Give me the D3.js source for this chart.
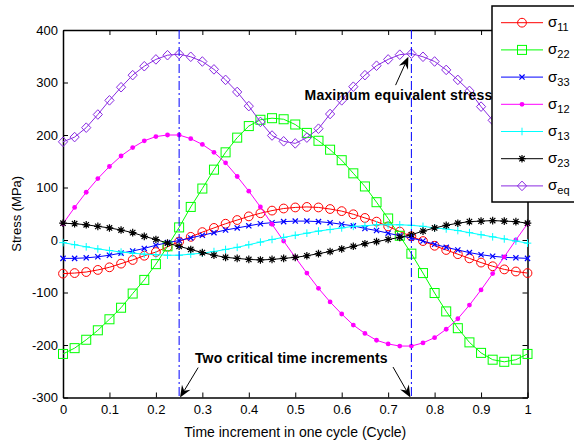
<!DOCTYPE html>
<html>
<head>
<meta charset="utf-8">
<script src="https://cdn.jsdelivr.net/npm/d3@7/dist/d3.min.js"></script>
<style>
  body { margin: 0; background: #fff; }
  svg { display: block; font-family: "Liberation Sans", Arial, sans-serif; }
</style>
</head>
<body>
<svg id="chart" width="574" height="443"></svg>
<script>
// time increments (cycle)
const timeSteps = [0, 0.025, 0.05, 0.075, 0.1, 0.125, 0.15, 0.175, 0.2, 0.225, 0.25, 0.275, 0.3, 0.325, 0.35, 0.375, 0.4, 0.425, 0.45, 0.475, 0.5,
  0.525, 0.55, 0.575, 0.6, 0.625, 0.65, 0.675, 0.7, 0.725, 0.75, 0.775, 0.8, 0.825, 0.85, 0.875, 0.9, 0.925, 0.95, 0.975, 1];

// stress components (MPa)
const sigma11 = [-64, -63, -61, -57, -52, -45, -38, -30, -23, -13, -3, 6, 15, 23, 31, 38, 45, 51, 56, 60, 62,
  63, 62, 59, 55, 49, 42, 35, 26, 16, 7, -2, -11, -19, -27, -35, -43, -50, -56, -60, -63];
const sigma22 = [-217, -206, -190, -172, -151, -129, -102, -76, -46, -12, 24, 63, 98, 134, 167, 195, 217, 229, 232, 230, 220,
  204, 189, 172, 152, 127, 102, 72, 41, 8, -26, -63, -101, -136, -168, -195, -215, -228, -232, -228, -217];
const sigma33 = [-35, -35, -34, -32, -29, -25, -21, -16, -10, -5, -1, 4, 9, 14, 19, 23, 27, 31, 33, 35, 36,
  36, 35, 33, 30, 27, 22, 18, 13, 8, 4, -2, -8, -14, -19, -24, -28, -31, -33, -34, -35];
const sigma12 = [31, 62, 91, 117, 140, 160, 176, 189, 197, 200, 200, 193, 182, 167, 147, 121, 93, 63, 30, -2, -33,
  -63, -92, -118, -141, -162, -178, -191, -198, -202, -202, -196, -186, -170, -150, -124, -95, -64, -32, 0, 31];
const sigma13 = [-5, -9, -13, -17, -20, -23, -25, -27, -28, -29, -29, -27, -25, -22, -18, -14, -9, -4, 1, 5, 9,
  13, 17, 20, 23, 26, 27, 29, 29, 29, 28, 26, 23, 21, 18, 14, 10, 6, 2, -2, -6];
const sigma23 = [32, 31, 29, 26, 23, 19, 14, 7, 1, -6, -12, -18, -24, -29, -33, -35, -37, -38, -37, -35, -33,
  -30, -26, -22, -17, -12, -7, -3, 1, 5, 10, 17, 23, 28, 32, 35, 36, 37, 36, 35, 32];
const sigmaEq = [187, 196, 214, 239, 266, 291, 314, 331, 344, 352, 354, 349, 340, 325, 305, 282, 255, 225, 199, 188, 184,
  195, 212, 240, 266, 292, 314, 332, 344, 353, 355, 349, 340, 324, 305, 284, 254, 228, 207, 192, 187];

const seriesSubs = ['11', '22', '33', '12', '13', '23', 'eq'];

const xTicks = [0, 0.1, 0.2, 0.3, 0.4, 0.5, 0.6, 0.7, 0.8, 0.9, 1];
const xTickLabels = ['0', '0.1', '0.2', '0.3', '0.4', '0.5', '0.6', '0.7', '0.8', '0.9', '1'];
const yTicks = [-300, -200, -100, 0, 100, 200, 300, 400];
const yTickLabels = ['-300', '-200', '-100', '0', '100', '200', '300', '400'];

const criticalTimes = [0.25, 0.75];

const W = 574, H = 443;
const MARGINS = { left: 63, right: 46.5, top: 30, bottom: 45.5 };

const svg = d3.select('#chart');
const x = d3.scaleLinear().domain([0, 1]).range([MARGINS.left, W - MARGINS.right]);
const y = d3.scaleLinear().domain([-300, 400]).range([H - MARGINS.bottom, MARGINS.top]);

// marker shapes, MATLAB style
const markers = {
  circle: (g, c) => g.append('circle').attr('r', 4.4).attr('fill', 'none').attr('stroke', c),
  square: (g, c) => g.append('rect').attr('x', -4.5).attr('y', -4.5).attr('width', 9).attr('height', 9)
    .attr('fill', 'none').attr('stroke', c),
  cross: (g, c) => g.append('path').attr('d', 'M-2.6,-2.6L2.6,2.6M-2.6,2.6L2.6,-2.6').attr('stroke', c).attr('stroke-width', 1.2),
  dot: (g, c) => g.append('circle').attr('r', 2.4).attr('fill', c),
  plus: (g, c) => g.append('path').attr('d', 'M-3.8,0H3.8M0,-3.8V3.8').attr('stroke', c),
  star: (g, c) => g.append('path').attr('d', 'M-3.8,0H3.8M0,-3.8V3.8M-2.7,-2.7L2.7,2.7M-2.7,2.7L2.7,-2.7').attr('stroke', c).attr('stroke-width', 1.2),
  diamond: (g, c) => g.append('path').attr('d', 'M0,-4.8L4.6,0L0,4.8L-4.6,0Z').attr('fill', 'none').attr('stroke', c),
};

const series = [
  { values: sigma11, color: '#ff0000', marker: 'circle' },
  { values: sigma22, color: '#00ff00', marker: 'square' },
  { values: sigma33, color: '#0000ff', marker: 'cross' },
  { values: sigma12, color: '#ff00ff', marker: 'dot' },
  { values: sigma13, color: '#00ffff', marker: 'plus' },
  { values: sigma23, color: '#000000', marker: 'star' },
  { values: sigmaEq, color: '#8a2be2', marker: 'diamond' },
].map((s, i) => ({ ...s, sub: seriesSubs[i] }));

// axes (box on, ticks inside)
const axisG = svg.append('g');
const styleAxis = (g) => {
  g.select('.domain').attr('stroke', '#000').attr('stroke-width', 1.5);
  g.selectAll('.tick line').attr('stroke', '#000').attr('stroke-width', 1);
  g.selectAll('.tick text').attr('fill', '#000').style('font-size', '13px');
};

axisG.append('g')
  .attr('transform', `translate(0,${y(-300)})`)
  .call(d3.axisBottom(x).tickValues(xTicks).tickFormat((d, i) => xTickLabels[i]).tickSize(-5).tickSizeOuter(0).tickPadding(7))
  .call(styleAxis);
axisG.append('g')
  .attr('transform', `translate(0,${y(400)})`)
  .call(d3.axisTop(x).tickValues(xTicks).tickFormat('').tickSize(-5).tickSizeOuter(0))
  .call(styleAxis);
axisG.append('g')
  .attr('transform', `translate(${x(0)},0)`)
  .call(d3.axisLeft(y).tickValues(yTicks).tickFormat((d, i) => yTickLabels[i]).tickSize(-5).tickSizeOuter(0).tickPadding(5))
  .call(styleAxis);
axisG.append('g')
  .attr('transform', `translate(${x(1)},0)`)
  .call(d3.axisRight(y).tickValues(yTicks).tickFormat('').tickSize(-5).tickSizeOuter(0))
  .call(styleAxis);
axisG.selectAll('text').attr('font-family', null);

// axis titles
svg.append('text')
  .attr('x', (x(0) + x(1)) / 2)
  .attr('y', 436.5)
  .attr('text-anchor', 'middle')
  .style('font-size', '14px')
  .text('Time increment in one cycle (Cycle)');
svg.append('text')
  .attr('transform', `translate(21,${(y(-300) + y(400)) / 2}) rotate(-90)`)
  .attr('text-anchor', 'middle')
  .style('font-size', '13px')
  .text('Stress (MPa)');

// series
const line = d3.line().x((d) => x(d[0])).y((d) => y(d[1]));
const plot = svg.append('g');
series.forEach((s) => {
  const pts = timeSteps.map((t, i) => [t, s.values[i]]);
  const g = plot.append('g');
  g.append('path').attr('d', line(pts)).attr('fill', 'none').attr('stroke', s.color).attr('stroke-width', 1);
  pts.forEach((p) => {
    const m = g.append('g').attr('transform', `translate(${x(p[0])},${y(p[1])})`);
    markers[s.marker](m, s.color);
  });
});

// critical time lines
svg.append('g').selectAll('line')
  .data(criticalTimes)
  .enter()
  .append('line')
  .attr('x1', (d) => x(d)).attr('x2', (d) => x(d))
  .attr('y1', y(400)).attr('y2', y(-300))
  .attr('stroke', '#0000ff')
  .attr('stroke-width', 1)
  .attr('stroke-dasharray', '9,3,2,3');

// annotations
const drawArrow = (g, x1, y1, x2, y2) => {
  const ang = Math.atan2(y2 - y1, x2 - x1);
  const L = 12, hw = 5, notch = 8;
  const pt = (d, o) => [x2 - d * Math.cos(ang) - o * Math.sin(ang), y2 - d * Math.sin(ang) + o * Math.cos(ang)];
  g.append('line')
    .attr('x1', x1).attr('y1', y1)
    .attr('x2', pt(notch, 0)[0]).attr('y2', pt(notch, 0)[1])
    .attr('stroke', '#000').attr('stroke-width', 1);
  g.append('path')
    .attr('d', 'M' + [[x2, y2], pt(L, hw), pt(notch, 0), pt(L, -hw)].map((p) => p.join(',')).join('L') + 'Z')
    .attr('fill', '#000');
};

const ann = svg.append('g');
ann.append('text')
  .attr('x', x(0.52)).attr('y', y(266))
  .style('font-size', '14px').style('font-weight', 'bold').style('letter-spacing', '0.2px')
  .text('Maximum equivalent stress');
drawArrow(ann, x(0.716), y(295), x(0.7435), y(349));

ann.append('text')
  .attr('x', x(0.284)).attr('y', y(-234.5))
  .style('font-size', '14px').style('font-weight', 'bold').style('letter-spacing', '0.2px')
  .text('Two critical time increments');
drawArrow(ann, x(0.291), y(-243), x(0.252), y(-300));
drawArrow(ann, x(0.7105), y(-242), x(0.748), y(-300));

// legend
const legend = svg.append('g');
legend.append('rect')
  .attr('x', 492).attr('y', 6).attr('width', 90).attr('height', 196)
  .attr('fill', '#fff').attr('stroke', '#000').attr('stroke-width', 1.5);
series.forEach((s, i) => {
  const cy = 22.7 + i * 27.2;
  const row = legend.append('g');
  row.append('line').attr('x1', 501).attr('x2', 543).attr('y1', cy).attr('y2', cy)
    .attr('stroke', s.color).attr('stroke-width', 1);
  markers[s.marker](row.append('g').attr('transform', `translate(522,${cy})`), s.color);
  const t = row.append('text').attr('x', 548).attr('y', cy + 4.5).style('font-size', '15px');
  t.append('tspan').text('σ');
  t.append('tspan').attr('dy', 4).style('font-size', '11px').text(s.sub);
});
</script>
</body>
</html>
